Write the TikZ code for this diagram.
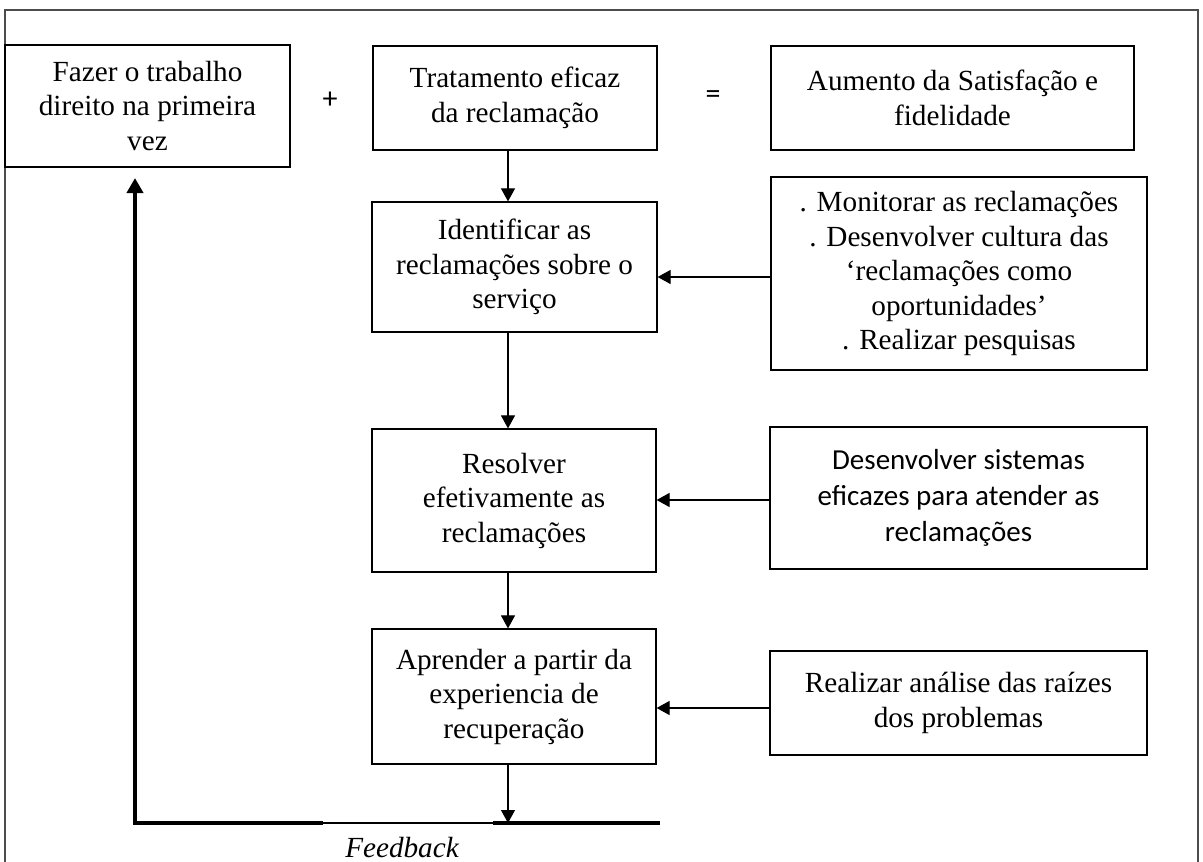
\documentclass[tikz,border=0pt]{standalone}
\usepackage{fontspec}
\setmainfont{Liberation Serif}
\newfontfamily\calibri{Carlito}
\usetikzlibrary{arrows.meta}
\begin{document}
\begin{tikzpicture}[x=1pt,y=-1pt,
  box/.style={draw=black,line width=1.2pt,rectangle,align=center,inner sep=0pt,
    font=\fontsize{29.2}{34.5}\selectfont},
  sansbox/.style={box,font=\calibri\fontsize{29}{36}\selectfont},
  arr/.style={-{Triangle[length=13pt,width=14pt]},line width=1.1pt},
  fbline/.style={line width=4.5pt},
  sym/.style={font=\calibri\fontsize{30}{34}\selectfont,inner sep=0pt}]
\useasboundingbox (0,0) rectangle (1203,862);
\clip (0,0) rectangle (1203,862);
\fill[white] (0,0) rectangle (1203,862);

% outer frame (runs past the lower edge)
\draw[line width=1.5pt,draw=black!70] (5,880) -- (5,10) -- (1198,10) -- (1198,880);

% top row
\node[box,minimum width=285,minimum height=122] (fazer) at (147.5,106)
  {Fazer o trabalho\\direito na primeira\\vez};
\node[sym] (plus) at (330,100) {+};
\node[box,minimum width=284,minimum height=104] (trat) at (515,98)
  {Tratamento eficaz\\da reclamação};
\node[sym] (eq) at (713,97) {=};
\node[box,minimum width=363,minimum height=104] (aum) at (952.5,98)
  {Aumento da Satisfação e\\fidelidade};

% central column
\node[box,minimum width=285,minimum height=130] (ident) at (514.5,267)
  {Identificar as\\reclamações sobre o\\serviço};
\node[box,minimum width=284,minimum height=143] (resol) at (514,500.5)
  {Resolver\\efetivamente as\\reclamações};
\node[box,minimum width=284,minimum height=135] (aprend) at (514,696.5)
  {Aprender a partir da\\experiencia de\\recuperação};

% right column
\node[box,minimum width=376,minimum height=193] (mon) at (959,273.5)
  {. Monitorar as reclamações\\. Desenvolver cultura das\\‘reclamações como\\oportunidades’\\. Realizar pesquisas};
\node[sansbox,minimum width=377,minimum height=142] (desen) at (958.5,498)
  {Desenvolver sistemas\\eficazes para atender as\\reclamações};
\node[box,minimum width=377,minimum height=104] (real) at (958.5,703)
  {Realizar análise das raízes\\dos problemas};

% vertical flow
\coordinate (ax) at (508,0);
\draw[arr] (trat.south -| ax) -- (ident.north -| ax);
\draw[arr] (ident.south -| ax) -- (resol.north -| ax);
\draw[arr] (resol.south -| ax) -- (aprend.north -| ax);

% inputs from the right
\draw[arr] (mon.west |- 0,277) -- (ident.east |- 0,277);
\draw[arr] (desen.west |- 0,500) -- (resol.east |- 0,500);
\draw[arr] (real.west |- 0,708) -- (aprend.east |- 0,708);

% feedback loop
\coordinate (fbR) at (660,823);
\coordinate (fbM2) at (493,823);
\coordinate (fbM1) at (323,823);
\coordinate (fbL) at (135,823);
\coordinate (fbTip) at (135,178);
\draw[arr] (aprend.south -| ax) -- (ax |- fbR);
\draw[fbline] (fbR) -- (fbM2);
\draw[line width=1.1pt] (fbM2) -- (fbM1);
\draw[fbline,line join=miter,-{Triangle[length=15pt,width=16pt]}] (fbM1) -- (fbL) -- (fbTip);
\node[font=\itshape\fontsize{29.2}{34}\selectfont,anchor=base,inner sep=0pt] (fb) at (402,857) {Feedback};
\end{tikzpicture}
\end{document}
